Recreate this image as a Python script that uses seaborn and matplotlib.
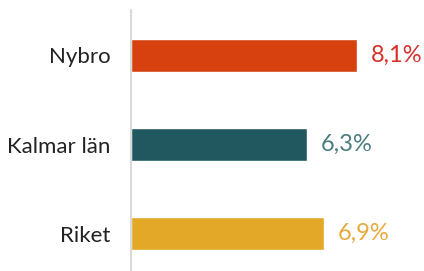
import matplotlib
matplotlib.use('Agg')
import matplotlib.pyplot as plt
import seaborn as sns
import pandas as pd

regions = ['Nybro', 'Kalmar län', 'Riket']
values = [8.1, 6.3, 6.9]
bar_colors = ['#D7400F', '#215860', '#E3A827']
label_colors = ['#D5302A', '#4C7C80', '#E6AA3E']

sns.set_style('white')
plt.rcParams['font.family'] = ['Lato', 'DejaVu Sans']

df = pd.DataFrame({'region': regions, 'value': values})

fig = plt.figure(figsize=(4.24, 2.71), dpi=100)
ax = fig.add_axes([131 / 424, 0, 1 - 131 / 424, 261 / 271])

sns.barplot(data=df, x='value', y='region', hue='region', palette=bar_colors,
            saturation=1, orient='h', width=0.37, legend=False, ax=ax)

for i, (v, c) in enumerate(zip(values, label_colors)):
    ax.text(v + 0.5, i, f'{v:.1f}%'.replace('.', ','), va='center', ha='left',
            fontsize=17, color=c)

ax.set_xlim(0, 10.5)
ax.set_ylim(2.421, -0.511)
ax.set_xlabel('')
ax.set_ylabel('')
ax.set_xticks([])
ax.tick_params(axis='y', length=0, pad=15, labelsize=16, labelcolor='#222222')
for side in ['top', 'right', 'bottom']:
    ax.spines[side].set_visible(False)
ax.spines['left'].set_color('#D9D9D9')
ax.spines['left'].set_linewidth(1.5)

fig.savefig('out.png', dpi=100)
